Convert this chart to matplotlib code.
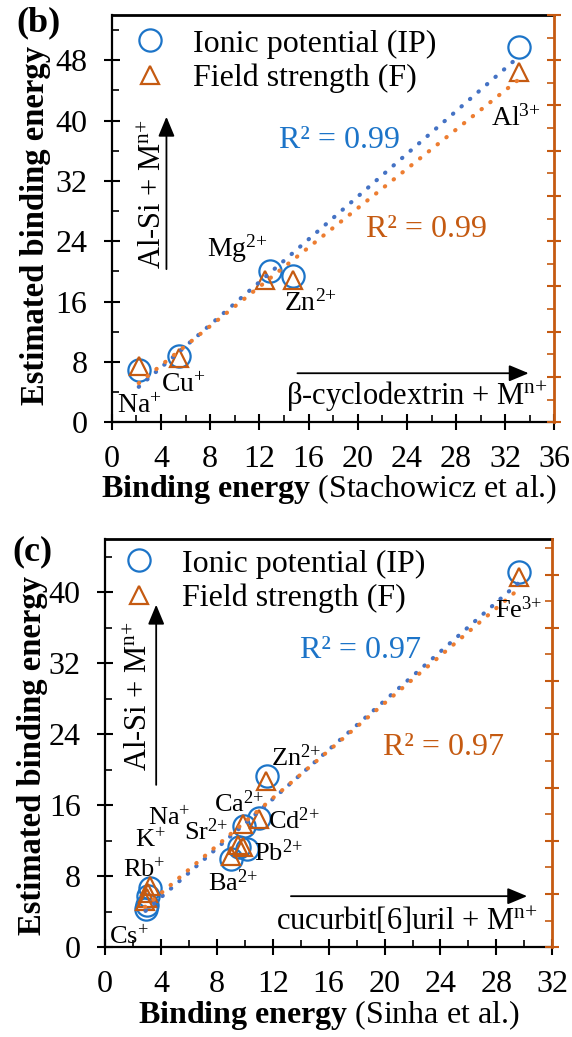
import numpy as np
import matplotlib
matplotlib.use("Agg")
import matplotlib.pyplot as plt
from matplotlib.ticker import MultipleLocator

plt.rcParams["font.family"] = "Liberation Serif"
plt.rcParams["mathtext.fontset"] = "custom"
plt.rcParams["mathtext.rm"] = "Liberation Serif"
plt.rcParams["mathtext.it"] = "Liberation Serif:italic"
plt.rcParams["mathtext.bf"] = "Liberation Serif:bold"

# panel (b): beta-cyclodextrin + M (Stachowicz et al.)
b_ions = ["Na$^{{+}}$", "Cu$^{{+}}$", "Mg$^{2{+}}$", "Zn$^{2{+}}$", "Al$^{3{+}}$"]
b_ref_ip = [2.2, 5.5, 12.9, 14.7, 33.1]
b_est_ip = [6.9, 8.8, 20.0, 19.4, 49.7]
b_ref_f = [2.2, 5.5, 12.5, 14.7, 33.1]
b_est_f = [7.4, 8.5, 18.9, 18.9, 46.5]
b_r2 = ["0.99", "0.99"]

# panel (c): cucurbit[6]uril + M (Sinha et al.)
c_ions = ["Na$^{{+}}$", "K$^{{+}}$", "Rb$^{{+}}$", "Cs$^{{+}}$", "Ca$^{2{+}}$",
          "Sr$^{2{+}}$", "Ba$^{2{+}}$", "Cd$^{2{+}}$", "Pb$^{2{+}}$",
          "Zn$^{2{+}}$", "Fe$^{3{+}}$"]
c_ref_ip = [3.2, 3.1, 3.0, 2.9, 9.95, 9.55, 9.0, 11.05, 10.15, 11.6, 29.65]
c_est_ip = [6.7, 5.8, 4.8, 4.3, 13.7, 11.3, 9.9, 14.6, 11.1, 19.3, 42.3]
c_ref_f = [3.25, 3.1, 3.0, 2.85, 9.9, 9.5, 9.0, 11.05, 9.9, 11.55, 29.65]
c_est_f = [6.9, 6.1, 5.6, 5.2, 13.9, 11.5, 10.3, 14.4, 11.3, 18.7, 41.7]
c_r2 = ["0.97", "0.97"]

BLUE = "#1C74C8"
ORANGE = "#C55A11"
BLUE_DOT = "#4472C4"
ORANGE_DOT = "#ED7D31"
MN = "M$^{\\mathrm{n{+}}}$"

fig = plt.figure(figsize=(5.72, 10.37), dpi=100)


def draw_panel(rect, ions, x_ip, y_ip, x_f, y_f, r2, offsets, xmax, ymax,
               ref_name, r2_pos, v_arrow, h_arrow, host_text, legend_anchor,
               ylab_pos, xlab_pos, ion_size):
    ax = fig.add_axes(rect)
    ax.set_xlim(0, xmax)
    ax.set_ylim(0, ymax)

    # regression lines
    for xs, ys, col in [(x_ip, y_ip, BLUE_DOT), (x_f, y_f, ORANGE_DOT)]:
        k, b = np.polyfit(xs, ys, 1)
        xx = np.array([min(xs), max(xs)])
        ax.plot(xx, k * xx + b, color=col, lw=3, linestyle=(0, (0.1, 2.6)),
                dash_capstyle="round", zorder=3)

    ax.plot(x_ip, y_ip, "o", ms=16, mfc="none", mec=BLUE, mew=1.6,
            label="Ionic potential (IP)", zorder=2)
    ax.plot(x_f, y_f, "^", ms=13.5, mfc="none", mec=ORANGE, mew=1.6,
            label="Field strength (F)", zorder=2)

    for name, x, y, off in zip(ions, x_ip, y_ip, offsets):
        ax.annotate(name, (x, y), xytext=off, textcoords="offset points",
                    ha="center", va="center", fontsize=ion_size)

    ax.text(r2_pos[0][0], r2_pos[0][1], "R\u00b2 = " + r2[0], color=BLUE,
            fontsize=23, ha="center", va="center")
    ax.text(r2_pos[1][0], r2_pos[1][1], "R\u00b2 = " + r2[1], color=ORANGE,
            fontsize=23, ha="center", va="center")

    # vertical arrow: Al-Si + M
    ax.annotate("", xy=(v_arrow[0], v_arrow[2]), xytext=(v_arrow[0], v_arrow[1]),
                arrowprops=dict(arrowstyle="-|>,head_length=0.6,head_width=0.25",
                                color="black", lw=1.3, shrinkA=0, shrinkB=0,
                                mutation_scale=20))
    ax.text(v_arrow[3], v_arrow[4], "Al-Si + " + MN, rotation=90,
            ha="center", va="center", fontsize=22)

    # horizontal arrow: host + M
    ax.annotate("", xy=(h_arrow[1], h_arrow[2]), xytext=(h_arrow[0], h_arrow[2]),
                arrowprops=dict(arrowstyle="-|>,head_length=0.6,head_width=0.25",
                                color="black", lw=1.3, shrinkA=0, shrinkB=0,
                                mutation_scale=20))
    ax.text(h_arrow[3], h_arrow[4], host_text, ha="center", va="center",
            fontsize=22)

    ax.xaxis.set_major_locator(MultipleLocator(4))
    ax.xaxis.set_minor_locator(MultipleLocator(2))
    ax.yaxis.set_major_locator(MultipleLocator(8))
    ax.yaxis.set_minor_locator(MultipleLocator(4))
    ax.tick_params(which="major", direction="inout", length=11, width=1.5,
                   labelsize=23, top=False, right=False)
    ax.tick_params(which="minor", direction="in", length=5, width=1.2,
                   top=False, right=False)
    ax.tick_params(axis="x", which="major", pad=11)
    ax.tick_params(axis="y", which="major", pad=12)
    ax.spines["right"].set_visible(False)
    ax.spines["left"].set_linewidth(1.6)
    ax.spines["bottom"].set_linewidth(1.6)
    ax.spines["top"].set_linewidth(2)

    ax2 = ax.twinx()
    ax2.set_ylim(0, ymax)
    ax2.yaxis.set_major_locator(MultipleLocator(6))
    ax2.yaxis.set_minor_locator(MultipleLocator(3))
    ax2.tick_params(axis="y", which="major", direction="inout", length=10,
                    width=1.5, colors=ORANGE, labelright=False)
    ax2.tick_params(axis="y", which="minor", direction="in", length=5,
                    width=1.2, colors=ORANGE)
    for s in ["left", "top", "bottom"]:
        ax2.spines[s].set_visible(False)
    ax2.spines["right"].set_color(ORANGE)
    ax2.spines["right"].set_linewidth(2)

    ax.legend(loc="upper left", bbox_to_anchor=legend_anchor, frameon=False,
              fontsize=23, handlelength=1.0, handletextpad=0.85, borderpad=0,
              borderaxespad=0, labelspacing=0.15)

    ax.set_ylabel("Estimated binding energy", fontsize=23.5, fontweight="bold")
    ax.yaxis.set_label_coords(ylab_pos[0], ylab_pos[1])
    ax.set_xlabel("$\\mathbf{Binding\\ energy}$ (" + ref_name + ")", fontsize=23)
    ax.xaxis.set_label_coords(xlab_pos[0], xlab_pos[1])
    return ax


# label offsets (points) relative to the IP marker
b_offsets = [(0.7, -26), (3, -21), (-24, 16), (13, -20), (-2, -51)]
c_offsets = [(14, 50), (1.5, 40), (-2, 25), (-12, -20), (-3.5, 16), (-23, 11),
             (2, -17), (25, -2), (23, -2.5), (21, 13), (-0.5, -27.5)]

draw_panel([0.1953, 0.5928, 0.7741, 0.3928], b_ions, b_ref_ip, b_est_ip,
           b_ref_f, b_est_f, b_r2, b_offsets, 36, 54, "Stachowicz et al.",
           [(18.5, 37.4), (25.6, 25.5)], (4.45, 20.3, 40.5, 3.4, 30.2),
           (15.1, 33.9, 6.5, 24.8, 3.4),
           "\u03b2-cyclodextrin + " + MN, (0.05, 0.965),
           (-0.136, 0.482), (0.49, -0.122), 20)

draw_panel([0.1836, 0.0865, 0.782, 0.3937], c_ions, c_ref_ip, c_est_ip,
           c_ref_f, c_est_f, c_r2, c_offsets, 32, 46, "Sinha et al.",
           [(18.3, 33.4), (24.2, 22.5)], (3.66, 18.3, 38.6, 2.48, 28.3),
           (13.3, 30.2, 5.76, 21.6, 2.87),
           "cucurbit[6]uril + " + MN, (0.04, 0.975),
           (-0.128, 0.47), (0.501, -0.124), 19)

fig.text(38 / 572, 1 - 23 / 1037, "(b)", fontsize=26, fontweight="bold",
         ha="center", va="center")
fig.text(32 / 572, 1 - 552 / 1037, "(c)", fontsize=26, fontweight="bold",
         ha="center", va="center")

fig.savefig("out.png", dpi=100)
